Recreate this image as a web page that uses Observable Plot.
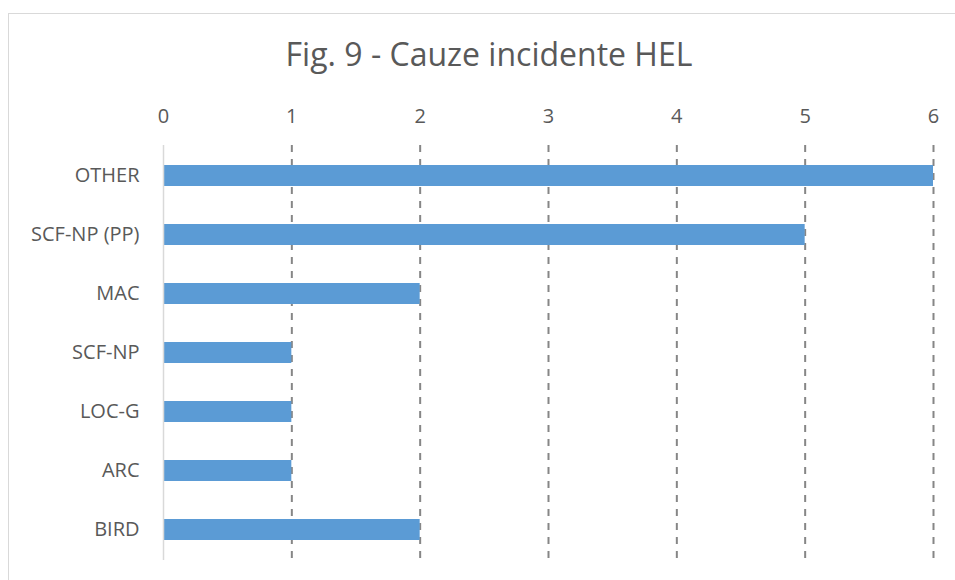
<!DOCTYPE html>
<html>
<head>
<meta charset="utf-8">
<script src="https://cdn.jsdelivr.net/npm/d3@7"></script>
<script src="https://cdn.jsdelivr.net/npm/@observablehq/plot@0.6"></script>
<style>
  html, body { margin: 0; padding: 0; background: #fff; overflow: hidden; }
  body { width: 955px; height: 580px; position: relative; font-family: "Open Sans", sans-serif; }
  #frame { position: absolute; left: 8px; top: 13px; width: 1000px; height: 1000px; border: 1px solid #d9d9d9; box-sizing: border-box; }
  #title { position: absolute; left: 0; top: 38px; width: 978px; text-align: center; font-size: 32px; line-height: 1; color: #595959; white-space: nowrap; }
  #chart { position: absolute; left: 0; top: 85px; }
</style>
</head>
<body>
<div id="frame"></div>
<div id="title">Fig. 9 - Cauze incidente HEL</div>
<div id="chart"></div>
<script>
const categories = ["OTHER", "SCF-NP (PP)", "MAC", "SCF-NP", "LOC-G", "ARC", "BIRD"];
const values = [6, 5, 2, 1, 1, 1, 2];
const xTicks = [0, 1, 2, 3, 4, 5, 6];
const gridTicks = [1, 2, 3, 4, 5, 6];

const data = categories.map((c, i) => ({cause: c, count: values[i]}));

const chart = Plot.plot({
  width: 955,
  height: 495,
  marginTop: 60,
  marginLeft: 163,
  marginRight: 22,
  marginBottom: 20,
  style: {fontFamily: "'Open Sans', sans-serif", fontSize: "20px", color: "#595959", background: "transparent"},
  x: {domain: [0, 6], axis: "top", ticks: xTicks, tickSize: 0, tickPadding: 23, label: null, tickFormat: d => String(d)},
  y: {domain: categories, paddingInner: 0.645, paddingOuter: 0.3225, tickSize: 0, tickPadding: 24, label: null},
  marks: [
    Plot.ruleX(gridTicks, {stroke: "#868686", strokeWidth: 2, strokeDasharray: "7,7", strokeOpacity: 1}),
    Plot.barX(data, {x: "count", y: "cause", fill: "#5b9bd5"}),
    Plot.ruleX([0], {stroke: "#d9d9d9", strokeWidth: 1.5, strokeOpacity: 1})
  ]
});
document.getElementById("chart").appendChild(chart);
</script>
</body>
</html>
